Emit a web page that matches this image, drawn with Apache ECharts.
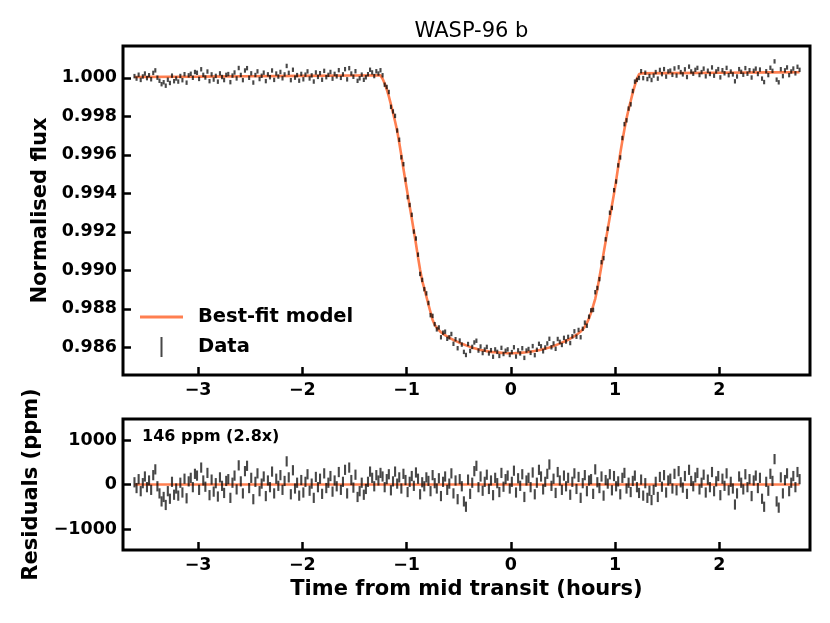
<!DOCTYPE html>
<html>
<head>
<meta charset="utf-8">
<script src="https://cdn.jsdelivr.net/npm/echarts@6/dist/echarts.min.js"></script>
<style>html,body{margin:0;padding:0;background:#fff;}#chart{width:830px;height:623px;}</style>
</head>
<body>
<div id="chart"></div>
<script>
// ---- Data ----
const times = [
-3.61,-3.59,-3.57,-3.55,-3.53,-3.51,-3.49,-3.47,-3.45,-3.43,
-3.41,-3.39,-3.37,-3.35,-3.33,-3.31,-3.29,-3.27,-3.25,-3.23,
-3.21,-3.19,-3.17,-3.15,-3.13,-3.11,-3.09,-3.07,-3.05,-3.03,
-3.01,-2.99,-2.97,-2.95,-2.93,-2.91,-2.89,-2.87,-2.85,-2.83,
-2.81,-2.79,-2.77,-2.75,-2.73,-2.71,-2.69,-2.67,-2.65,-2.63,
-2.61,-2.59,-2.57,-2.55,-2.53,-2.51,-2.49,-2.47,-2.45,-2.43,
-2.41,-2.39,-2.37,-2.35,-2.33,-2.31,-2.29,-2.27,-2.25,-2.23,
-2.21,-2.19,-2.17,-2.15,-2.13,-2.11,-2.09,-2.07,-2.05,-2.03,
-2.01,-1.99,-1.97,-1.95,-1.93,-1.91,-1.89,-1.87,-1.85,-1.83,
-1.81,-1.79,-1.77,-1.75,-1.73,-1.71,-1.69,-1.67,-1.65,-1.63,
-1.61,-1.59,-1.57,-1.55,-1.53,-1.51,-1.49,-1.47,-1.45,-1.43,
-1.41,-1.39,-1.37,-1.35,-1.33,-1.31,-1.29,-1.27,-1.25,-1.23,
-1.21,-1.19,-1.17,-1.15,-1.13,-1.11,-1.09,-1.07,-1.05,-1.03,
-1.01,-0.99,-0.97,-0.95,-0.93,-0.91,-0.89,-0.87,-0.85,-0.83,
-0.81,-0.79,-0.77,-0.75,-0.73,-0.71,-0.69,-0.67,-0.65,-0.63,
-0.61,-0.59,-0.57,-0.55,-0.53,-0.51,-0.49,-0.47,-0.45,-0.43,
-0.41,-0.39,-0.37,-0.35,-0.33,-0.31,-0.29,-0.27,-0.25,-0.23,
-0.21,-0.19,-0.17,-0.15,-0.13,-0.11,-0.09,-0.07,-0.05,-0.03,
-0.01,0.01,0.03,0.05,0.07,0.09,0.11,0.13,0.15,0.17,
0.19,0.21,0.23,0.25,0.27,0.29,0.31,0.33,0.35,0.37,
0.39,0.41,0.43,0.45,0.47,0.49,0.51,0.53,0.55,0.57,
0.59,0.61,0.63,0.65,0.67,0.69,0.71,0.73,0.75,0.77,
0.79,0.81,0.83,0.85,0.87,0.89,0.91,0.93,0.95,0.97,
0.99,1.01,1.03,1.05,1.07,1.09,1.11,1.13,1.15,1.17,
1.19,1.21,1.23,1.25,1.27,1.29,1.31,1.33,1.35,1.37,
1.39,1.41,1.43,1.45,1.47,1.49,1.51,1.53,1.55,1.57,
1.59,1.61,1.63,1.65,1.67,1.69,1.71,1.73,1.75,1.77,
1.79,1.81,1.83,1.85,1.87,1.89,1.91,1.93,1.95,1.97,
1.99,2.01,2.03,2.05,2.07,2.09,2.11,2.13,2.15,2.17,
2.19,2.21,2.23,2.25,2.27,2.29,2.31,2.33,2.35,2.37,
2.39,2.41,2.43,2.45,2.47,2.49,2.51,2.53,2.55,2.57,
2.59,2.61,2.63,2.65,2.67,2.69,2.71,2.73,2.75,2.77
];

const flux = [
1.000086,0.999957,1.000158,0.999888,1.000069,1.000220,0.999980,1.000131,0.999922,1.000253,
1.000384,1.000004,0.999845,0.999666,0.999767,0.999588,0.999898,0.999729,1.000110,0.999821,
0.999962,0.999802,1.000093,0.999874,1.000185,0.999746,1.000126,1.000207,0.999998,1.000299,
1.000260,0.999940,1.000441,1.000152,1.000013,1.000324,0.999824,1.000175,0.999906,1.000097,
0.999798,1.000228,1.000039,0.999880,1.000151,1.000192,0.999772,1.000113,1.000274,0.999965,
1.000506,1.000146,0.999877,1.000378,1.000499,1.000000,1.000230,0.999751,1.000142,1.000333,
0.999934,1.000104,1.000265,0.999826,1.000177,1.000028,1.000378,0.999889,1.000220,1.000061,
1.000302,0.999972,1.000173,1.000614,1.000255,0.999876,1.000416,1.000007,1.000138,0.999849,
1.000200,0.999920,1.000161,1.000332,0.999963,1.000124,0.999804,1.000275,1.000046,1.000237,
0.999898,1.000358,1.000029,1.000150,1.000301,0.999952,1.000202,1.000073,1.000394,0.999995,
1.000176,1.000446,0.999917,1.000498,1.000219,1.000050,1.000340,0.999841,0.999972,1.000163,
0.999894,1.000024,1.000185,1.000416,1.000277,1.000088,1.000338,1.000219,1.000390,
1.000130,0.999640,0.999520,0.999260,0.998490,0.998250,0.998020,0.997260,0.996780,0.995870,
0.995510,0.994710,0.993800,0.993390,0.992880,0.992010,0.991650,0.990810,0.989810,0.989500,
0.989020,0.988800,0.988300,0.987670,0.987630,0.987200,0.986930,0.987030,0.986520,0.986760,
0.986810,0.986440,0.986520,0.986690,0.986180,0.986420,0.985950,0.986350,0.986140,0.985760,
0.985600,0.986170,0.985810,0.986020,0.986250,0.986340,0.985830,0.986040,0.985700,0.985880,
0.986020,0.985680,0.985850,0.985510,0.985890,0.985760,0.985550,0.985970,0.985650,0.985820,
0.985890,0.985600,0.985750,0.986000,0.985520,0.985840,0.985680,0.985950,0.985450,0.985830,
0.985910,0.985710,0.986060,0.985590,0.985870,0.986180,0.986050,0.985790,0.985990,0.986200,
0.986440,0.986000,0.986200,0.985920,0.986430,0.986280,0.986120,0.986490,0.986300,0.986540,
0.986220,0.986570,0.986830,0.986550,0.986900,0.986520,0.986960,0.987280,0.987120,0.987590,
0.987920,0.987940,0.988860,0.989080,0.989540,0.990420,0.990630,0.991610,0.992160,0.992990,
0.993240,0.994160,0.994610,0.995450,0.995860,0.996870,0.997590,0.997790,0.998400,0.998620,
0.999310,0.999800,0.999890,0.999990,
1.000340,0.999981,1.000262,0.999932,1.000093,0.999884,
1.000115,1.000296,0.999956,1.000407,1.000188,1.000449,1.000060,1.000330,1.000371,1.000152,
1.000483,1.000114,1.000544,1.000295,1.000176,1.000437,1.000038,1.000578,1.000329,1.000210,
1.000411,1.000512,1.000142,1.000293,1.000474,1.000075,1.000366,1.000196,1.000537,1.000108,
1.000329,1.000450,1.000020,1.000391,1.000232,1.000513,1.000134,1.000324,1.000175,0.999816,
1.000067,1.000448,1.000308,1.000159,1.000500,1.000211,1.000392,1.000012,1.000363,1.000474,
1.000195,1.000426,0.999956,0.999777,1.000338,1.000139,1.000520,1.000360,1.000851,0.999902,
0.999763,1.000444,1.000084,1.000385,1.000536,1.000137,1.000328,1.000478,1.000229,1.000570,1.000411
];

const residualsPpm = [
50,-80,120,-150,30,180,-60,90,-120,210,
340,-40,-200,-380,-280,-460,-150,-320,60,-230,
-90,-250,40,-180,130,-310,70,150,-60,240,
200,-120,380,90,-50,260,-240,110,-160,30,
-270,160,-30,-190,80,120,-300,40,200,-110,
430,70,-200,300,420,-80,150,-330,60,250,
-150,20,180,-260,90,-60,290,-200,130,-30,
210,-120,80,520,160,-220,320,-90,40,-250,
100,-180,60,230,-140,20,-300,170,-60,130,
-210,250,-80,40,190,-160,90,-40,280,-120,
60,330,-200,380,100,-70,220,-280,-150,40,
-230,-100,60,290,150,-40,210,90,260,
180,-60,120,230,-130,70,290,20,160,-90,
240,100,-170,60,190,-30,270,130,-220,50,
-40,160,80,-150,210,30,-90,140,-260,60,
180,-120,20,250,-200,90,-330,120,-40,-380,
-500,110,-210,40,300,420,-60,180,-140,60,
220,-100,90,-240,150,30,-170,260,-50,120,
200,-90,60,310,-180,140,-30,230,-280,90,
150,-60,270,-220,40,330,180,-110,60,240,
450,-30,130,-190,280,90,-120,200,-40,150,
-230,60,250,-100,170,-300,30,210,-150,90,
120,-210,340,50,-80,180,-250,100,20,230,
-130,190,-40,70,-220,150,260,-90,40,-170,
80,200,-60,-190,110,-250,30,-300,-140,-350,
-120,60,-280,170,-50,210,-180,90,130,-90,
240,-130,300,50,-70,190,-210,330,80,-40,
160,260,-110,40,220,-180,110,-60,280,-150,
70,190,-240,130,-30,250,-130,60,-90,-450,
-200,180,40,-110,230,-60,120,-260,90,200,
-80,150,-320,-500,60,-140,240,80,570,-380,
-520,160,-200,100,250,-150,40,190,-60,280,120
];

const errorPpm = 115;

const modelTime = [
-3.61,-3.0,-2.5,-2.0,-1.5,-1.25,
-1.23,-1.21,-1.19,-1.17,-1.15,-1.13,-1.11,-1.09,-1.07,-1.05,
-1.03,-1.01,-0.99,-0.97,-0.95,-0.93,-0.91,-0.89,-0.87,-0.85,
-0.83,-0.81,-0.79,-0.77,-0.75,-0.73,-0.71,-0.69,-0.67,-0.65,
-0.63,-0.61,-0.59,-0.57,-0.55,-0.53,-0.51,-0.49,-0.47,-0.45,
-0.43,-0.41,-0.39,-0.37,-0.35,-0.33,-0.31,-0.29,-0.27,-0.25,
-0.23,-0.21,-0.19,-0.17,-0.15,-0.13,-0.11,-0.09,-0.07,-0.05,
-0.03,-0.01,0.01,0.03,0.05,0.07,0.09,0.11,0.13,0.15,
0.17,0.19,0.21,0.23,0.25,0.27,0.29,0.31,0.33,0.35,
0.37,0.39,0.41,0.43,0.45,0.47,0.49,0.51,0.53,0.55,
0.57,0.59,0.61,0.63,0.65,0.67,0.69,0.71,0.73,0.75,
0.77,0.79,0.81,0.83,0.85,0.87,0.89,0.91,0.93,0.95,
0.97,0.99,1.01,1.03,1.05,1.07,1.09,1.11,1.13,1.15,
1.17,1.19,1.21,1.23,
1.25,1.5,2.0,2.5,2.77
];

const modelFlux = [
1.00004,1.00006,1.00008,1.00010,1.00012,1.00013,
0.99995,0.99970,0.99940,0.99903,0.99862,0.99818,0.99773,0.99724,0.99662,0.99596,
0.99527,0.99461,0.99397,0.99333,0.99269,0.99204,0.99138,0.99068,0.99003,0.98945,
0.98906,0.98864,0.98822,0.98782,0.98742,0.98717,0.98702,0.98689,0.98678,0.98670,
0.98663,0.98656,0.98650,0.98644,0.98638,0.98633,0.98628,0.98623,0.98618,0.98614,
0.98610,0.98606,0.98602,0.98598,0.98595,0.98592,0.98589,0.98586,0.98584,0.98582,
0.98580,0.98578,0.98576,0.98575,0.98574,0.98573,0.98572,0.98571,0.98570,0.98570,
0.98569,0.98569,0.98569,0.98569,0.98570,0.98570,0.98571,0.98572,0.98573,0.98574,
0.98576,0.98577,0.98579,0.98581,0.98583,0.98585,0.98587,0.98590,0.98593,0.98596,
0.98599,0.98603,0.98607,0.98611,0.98615,0.98619,0.98624,0.98629,0.98634,0.98639,
0.98645,0.98651,0.98658,0.98665,0.98673,0.98682,0.98693,0.98707,0.98727,0.98750,
0.98780,0.98815,0.98852,0.98903,0.98962,0.99024,0.99088,0.99151,0.99214,0.99276,
0.99337,0.99397,0.99465,0.99538,0.99608,0.99672,0.99733,0.99788,0.99836,0.99879,
0.99923,0.99960,0.99995,1.00018,
1.00023,1.00024,1.00026,1.00028,1.00029
];

const residualModelTime = [-3.61, 2.77];
const residualModelValue = [0, 0];

const xTicks = [-3, -2, -1, 0, 1, 2];
const fluxTicks = [0.986, 0.988, 0.990, 0.992, 0.994, 0.996, 0.998, 1.000];
const residualTicks = [-1000, 0, 1000];

// ---- Chart ----
const FONT = '"DejaVu Sans", "Liberation Sans", sans-serif';
const chart = echarts.init(document.getElementById('chart'), null, {renderer: 'canvas'});

const fluxData = times.map((t, i) => [t, flux[i], errorPpm * 1e-6]);
const residData = times.map((t, i) => [t, residualsPpm[i], errorPpm]);
const modelData = modelTime.map((t, i) => [t, modelFlux[i]]);
const residModelData = residualModelTime.map((t, i) => [t, residualModelValue[i]]);

function minusFmt(v) {
  return v < 0 ? '\u2212' + String(Math.abs(v)) : String(v);
}

const BAR_COLOR = 'rgba(0,0,0,0.72)';
function renderErrorBar(params, api) {
  const x = api.value(0), y = api.value(1), e = api.value(2);
  const p1 = api.coord([x, y + e]);
  const p2 = api.coord([x, y - e]);
  return {
    type: 'line',
    shape: {x1: p1[0], y1: p1[1], x2: p2[0], y2: p2[1]},
    style: {stroke: BAR_COLOR, lineWidth: 2.1}
  };
}

const tickStyle = {inside: true, length: 8, lineStyle: {color: '#000', width: 2.5}};
const labelStyle = {color: '#000', fontSize: 17.5, fontWeight: 'bold', fontFamily: FONT, margin: 6};
const nameStyle = {color: '#000', fontSize: 21, fontWeight: 'bold', fontFamily: FONT};

function xAxisFor(gridIndex, extra) {
  return Object.assign({
    type: 'value', gridIndex: gridIndex, min: -3.72, max: 2.87,
    axisLine: {show: false, onZero: false}, splitLine: {show: false},
    axisTick: Object.assign({customValues: xTicks}, tickStyle),
    axisLabel: Object.assign({customValues: xTicks, formatter: minusFmt}, labelStyle)
  }, extra || {});
}

const option = {
  animation: false,
  backgroundColor: '#fff',
  textStyle: {fontFamily: FONT},
  title: {
    text: 'WASP-96 b', left: 466.5, top: 16, textAlign: 'center',
    textStyle: {color: '#000', fontSize: 21, fontWeight: 'normal', fontFamily: FONT}
  },
  legend: {
    orient: 'vertical', left: 140, top: 307, itemWidth: 43, itemHeight: 20, itemGap: 10,
    padding: 0, selectedMode: false,
    textStyle: {color: '#000', fontSize: 19.5, fontWeight: 'bold', fontFamily: FONT, padding: [0, 0, 0, 10]},
    data: [
      {name: 'Best-fit model', icon: 'path://M0,0H43V3H0Z'},
      {name: 'Data', icon: 'path://M0,0H2V20H0Z'}
    ]
  },
  grid: [
    {left: 123, right: 20, top: 46, height: 329, show: true, borderColor: '#000', borderWidth: 3, backgroundColor: 'transparent'},
    {left: 123, right: 20, top: 419, height: 131, show: true, borderColor: '#000', borderWidth: 3, backgroundColor: 'transparent'}
  ],
  xAxis: [
    xAxisFor(0),
    xAxisFor(1, {name: 'Time from mid transit (hours)', nameLocation: 'middle', nameGap: 29, nameTextStyle: nameStyle})
  ],
  yAxis: [
    {
      type: 'value', gridIndex: 0, min: 0.98456, max: 1.00165,
      axisLine: {show: false, onZero: false}, splitLine: {show: false},
      axisTick: Object.assign({customValues: fluxTicks}, tickStyle),
      axisLabel: Object.assign({customValues: fluxTicks, formatter: v => v.toFixed(3)}, labelStyle),
      name: 'Normalised flux', nameLocation: 'middle', nameGap: 71, nameRotate: 90, nameTextStyle: nameStyle
    },
    {
      type: 'value', gridIndex: 1, min: -1472, max: 1472,
      axisLine: {show: false, onZero: false}, splitLine: {show: false},
      axisTick: Object.assign({customValues: residualTicks}, tickStyle),
      axisLabel: Object.assign({customValues: residualTicks, formatter: minusFmt}, labelStyle),
      name: 'Residuals (ppm)', nameLocation: 'middle', nameGap: 81, nameRotate: 90, nameTextStyle: nameStyle
    }
  ],
  graphic: [
    {type: 'text', left: 142, top: 429,
     style: {text: '146 ppm (2.8x)', font: 'bold 16px ' + FONT, fill: '#000'}}
  ],
  series: [
    {
      name: 'Best-fit model', type: 'line', xAxisIndex: 0, yAxisIndex: 0,
      data: modelData, symbol: 'none', showSymbol: false,
      color: '#FF7F50', lineStyle: {color: '#FF7F50', width: 2.6}, z: 2
    },
    {
      name: 'Data', type: 'custom', xAxisIndex: 0, yAxisIndex: 0,
      data: fluxData, renderItem: renderErrorBar, encode: {x: 0, y: 1},
      itemStyle: {color: BAR_COLOR}, z: 3
    },
    {
      name: 'Residual model', type: 'line', xAxisIndex: 1, yAxisIndex: 1,
      data: residModelData, symbol: 'none', showSymbol: false,
      color: '#FF7F50', lineStyle: {color: '#FF7F50', width: 2.6}, z: 2
    },
    {
      name: 'Residuals', type: 'custom', xAxisIndex: 1, yAxisIndex: 1,
      data: residData, renderItem: renderErrorBar, encode: {x: 0, y: 1},
      itemStyle: {color: BAR_COLOR}, z: 3
    }
  ]
};
chart.setOption(option);
</script>
</body>
</html>
